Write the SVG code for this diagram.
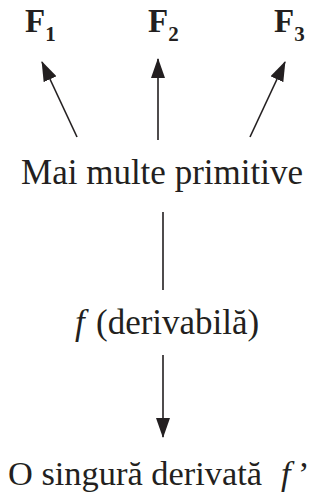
<svg xmlns="http://www.w3.org/2000/svg" width="328" height="495" viewBox="0 0 328 495">
<style>
.t{font-family:"Liberation Serif","Times New Roman",serif;font-size:35px;fill:#231f20}
.F{font-family:"Liberation Serif","Times New Roman",serif;font-weight:bold;font-size:33px;fill:#231f20}
.s{font-size:21px}
.i{font-style:italic}
.c{stroke:#231f20;stroke-width:1.6;fill:none}
</style>
<defs>
<marker id="ah" markerUnits="userSpaceOnUse" markerWidth="20" markerHeight="14" viewBox="0 0 20 14" refX="19" refY="7" orient="auto">
<path d="M0,0 L20,7 L0,14 Z" fill="#231f20"/>
</marker>
</defs>
<g id="F1"><text class="F" x="25" y="32">F<tspan class="s" dy="9">1</tspan></text></g>
<g id="F2"><text class="F" x="148" y="32">F<tspan class="s" dy="9">2</tspan></text></g>
<g id="F3"><text class="F" x="274" y="32">F<tspan class="s" dy="9">3</tspan></text></g>
<g id="primitive"><text class="t" x="162" y="184" text-anchor="middle">Mai multe primitive</text></g>
<g id="f"><text class="t" x="75" y="334"><tspan class="i">f</tspan><tspan x="96">(derivabilă)</tspan></text></g>
<g id="derivata"><text class="t" x="8" y="485" style="font-size:34.4px">O singură derivată<tspan class="i" x="281">f</tspan><tspan x="298">’</tspan></text></g>
<g id="connectors">
<line class="c" x1="77" y1="137" x2="42" y2="62" marker-end="url(#ah)"/>
<line class="c" x1="158" y1="140" x2="158" y2="59" marker-end="url(#ah)"/>
<line class="c" x1="250" y1="137" x2="285" y2="62" marker-end="url(#ah)"/>
<line class="c" x1="163" y1="212" x2="163" y2="290"/>
<line class="c" x1="163" y1="355" x2="163" y2="437" marker-end="url(#ah)"/>
</g>
</svg>
